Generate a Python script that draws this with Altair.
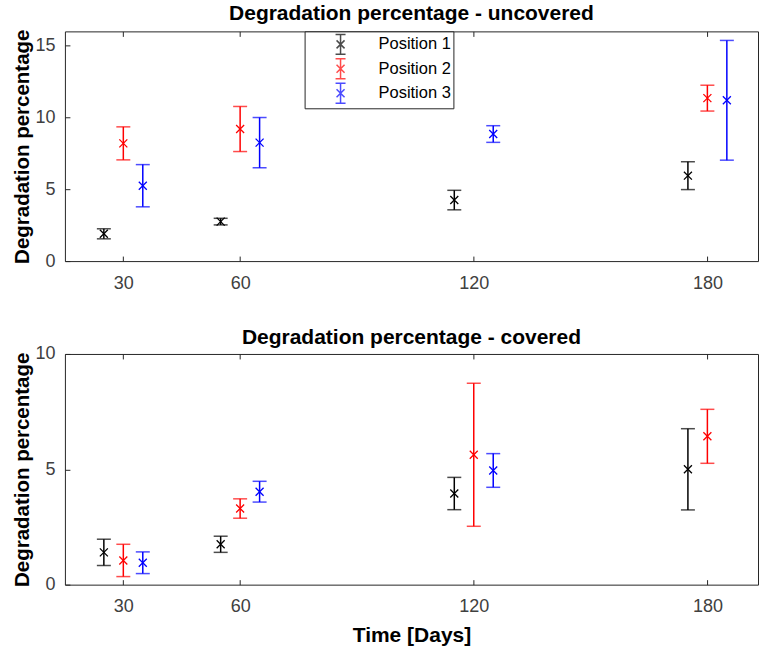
import altair as alt
import pandas as pd

# ---------------- data ----------------
days = [30, 60, 120, 180]
series_names = ["Position 1", "Position 2", "Position 3"]
series_colors = ["#000000", "#FF0000", "#0000FF"]
day_shift = [-5, 0, 5]

unc_p1_mean = [1.9, 2.75, 4.25, 5.95]
unc_p1_err = [0.35, 0.23, 0.68, 0.97]
unc_p2_mean = [8.2, 9.2, None, 11.35]
unc_p2_err = [1.15, 1.57, None, 0.9]
unc_p3_mean = [5.25, 8.25, 8.85, 11.2]
unc_p3_err = [1.47, 1.75, 0.58, 4.17]

cov_p1_mean = [1.4, 1.75, 3.95, 5.0]
cov_p1_err = [0.57, 0.35, 0.7, 1.76]
cov_p2_mean = [1.05, 3.3, 5.63, 6.43]
cov_p2_err = [0.7, 0.42, 3.1, 1.17]
cov_p3_mean = [0.95, 4.03, 4.95, None]
cov_p3_err = [0.47, 0.45, 0.73, None]

uncovered_ticks = [0, 5, 10, 15]
covered_ticks = [0, 5, 10]


def build(means, errs):
    rows = []
    for name, shift, m_list, e_list in zip(series_names, day_shift, means, errs):
        for d, m, e in zip(days, m_list, e_list):
            if m is None:
                continue
            rows.append({"series": name, "x": d + shift, "mean": m,
                         "lo": m - e, "hi": m + e})
    return pd.DataFrame(rows)


df_unc = build([unc_p1_mean, unc_p2_mean, unc_p3_mean],
               [unc_p1_err, unc_p2_err, unc_p3_err])
df_cov = build([cov_p1_mean, cov_p2_mean, cov_p3_mean],
               [cov_p1_err, cov_p2_err, cov_p3_err])

# ---------------- style ----------------
FONT = "Liberation Sans"
AX = "#262626"
LBL = "#404040"
X_MARK = "M-1,-1L1,1M-1,1L1,-1"
LEG_SYM = ("M0,-1L0,1M-0.5,-1L0.5,-1M-0.5,1L0.5,1"
           "M-0.4,-0.4L0.4,0.4M-0.4,0.4L0.4,-0.4")

x_scale = alt.Scale(domain=[15, 193], nice=False, zero=False)


def panel(df, title, ymax, yticks, show_xtitle, show_legend, title_offset,
          height):
    y_scale = alt.Scale(domain=[0, ymax], nice=False, zero=False)
    if show_legend:
        legend = alt.Legend(orient="none", legendX=240, legendY=0,
                            strokeColor=AX, fillColor="white", padding=2,
                            rowPadding=-1.5, symbolSize=400, symbolOffset=23,
                            labelOffset=27, labelFontSize=16.5, labelFont=FONT,
                            labelColor="#000000", symbolStrokeWidth=1.5,
                            symbolType=LEG_SYM, cornerRadius=0)
    else:
        legend = None
    color = alt.Color("series:N",
                      scale=alt.Scale(domain=series_names, range=series_colors),
                      legend=legend, title=None)

    base = alt.Chart(df)

    bars = base.mark_rule(strokeWidth=1.5).encode(
        x=alt.X("x:Q", scale=x_scale,
                axis=alt.Axis(values=days, orient="bottom", ticks=False,
                              tickSize=0, domain=False, grid=False,
                              labelFontSize=18, labelFont=FONT,
                              labelColor=LBL, labelPadding=13,
                              title="Time [Days]" if show_xtitle else None,
                              titleFontSize=21, titleFont=FONT,
                              titleFontWeight="bold", titleColor="#000000",
                              titlePadding=9)),
        y=alt.Y("lo:Q", scale=y_scale,
                axis=alt.Axis(values=yticks, orient="left", ticks=False,
                              tickSize=0, domain=False, grid=False,
                              labelFontSize=18, labelFont=FONT,
                              labelColor=LBL, labelPadding=10,
                              title="Degradation percentage",
                              titleFontSize=20.5, titleFont=FONT,
                              titleFontWeight="bold", titleColor="#000000",
                              titlePadding=2)),
        y2="hi:Q",
        color=color,
    )

    caps = base.transform_fold(["lo", "hi"], as_=["end", "val"]).mark_tick(
        orient="horizontal", size=14, thickness=1.5).encode(
        x=alt.X("x:Q", scale=x_scale,
                axis=alt.Axis(values=days, orient="bottom", offset=-5,
                              tickSize=5, tickColor=AX, labels=False,
                              domain=False, grid=False, title=None)),
        y=alt.Y("val:Q", scale=y_scale,
                axis=alt.Axis(values=yticks, orient="left", offset=-5,
                              tickSize=5, tickColor=AX, labels=False,
                              domain=False, grid=False, title=None)),
        color=color,
    )

    pts = base.mark_point(shape=X_MARK, size=64, strokeWidth=1.3,
                          filled=False, opacity=1).encode(
        x=alt.X("x:Q", scale=x_scale,
                axis=alt.Axis(values=days, orient="top", offset=-5,
                              tickSize=5, tickColor=AX, labels=False,
                              domain=False, grid=False, title=None)),
        y=alt.Y("mean:Q", scale=y_scale, axis=None),
        color=color,
    )

    return alt.layer(bars, caps, pts).resolve_axis(
        x="independent", y="independent"
    ).properties(
        width=694, height=height,
        title=alt.TitleParams(title, fontSize=21, font=FONT,
                              fontWeight="bold", color="#000000",
                              offset=title_offset),
    )


top = panel(df_unc, "Degradation percentage - uncovered", 16,
            uncovered_ticks, False, True, 5, 230)
bottom = panel(df_cov, "Degradation percentage - covered", 10,
               covered_ticks, True, False, -3, 231)

chart = alt.vconcat(top, bottom, spacing=93, bounds="flush").resolve_legend(
    color="independent"
).properties(
    padding={"left": 12, "top": 2, "right": 0, "bottom": 0},
    background="white",
).configure_view(
    stroke=AX, strokeWidth=1
)

chart.save("out.html", embed_options={"renderer": "svg", "actions": False})
